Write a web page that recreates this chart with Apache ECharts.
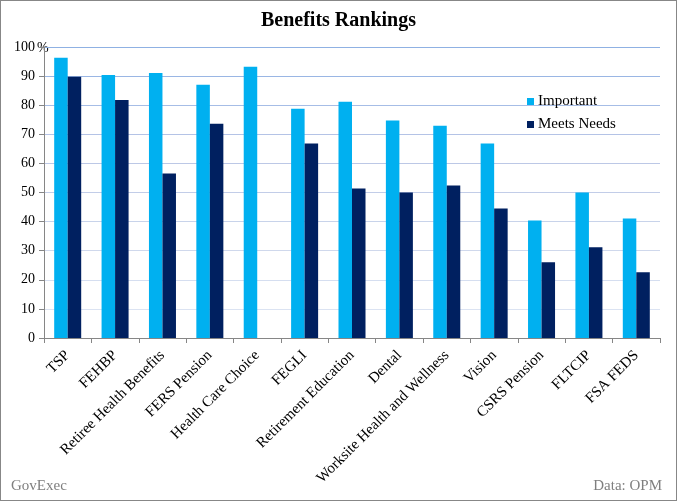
<!DOCTYPE html>
<html>
<head>
<meta charset="utf-8">
<script src="https://cdn.jsdelivr.net/npm/echarts@6/dist/echarts.min.js"></script>
<style>
html,body{margin:0;padding:0;background:#fff;}
#chart{width:677px;height:501px;box-sizing:border-box;border:1px solid #878787;}
</style>
</head>
<body>
<div id="chart"></div>
<script>
const categories = ["TSP","FEHBP","Retiree Health Benefits","FERS Pension","Health Care Choice","FEGLI","Retirement Education","Dental","Worksite Health and Wellness","Vision","CSRS Pension","FLTCIP","FSA FEDS"];
const important = [96.3, 90.4, 91.1, 87.0, 93.2, 78.8, 81.2, 74.7, 72.9, 66.8, 40.4, 50.0, 41.1];
const meetsNeeds = [89.8, 81.8, 56.5, 73.6, null, 66.8, 51.4, 50.0, 52.4, 44.5, 26.0, 31.2, 22.6];
const yTicks = [0,10,20,30,40,50,60,70,80,90,100];

const serif = "'Liberation Serif','DejaVu Serif',serif";
const chart = echarts.init(document.getElementById('chart'), null, {renderer:'canvas'});
chart.setOption({
  animation:false,
  title:{text:'Benefits Rankings', left:'center', top:5,
    textStyle:{fontFamily:serif, fontWeight:'bold', fontSize:20, color:'#000'}},
  legend:{
    data:['Important','Meets Needs'], orient:'vertical', left:521, top:88, itemGap:8,
    itemWidth:7, itemHeight:7, icon:'rect',
    textStyle:{fontFamily:serif, fontSize:15, color:'#000', padding:[0,0,0,-1]}
  },
  grid:{left:43, right:16, top:46, bottom:162, containLabel:false},
  xAxis:{
    type:'category', data:categories,
    axisLine:{lineStyle:{color:'#868686', width:1}},
    axisTick:{show:true, length:5, lineStyle:{color:'#868686'}},
    axisLabel:{rotate:45, interval:0, fontFamily:serif, fontSize:15, color:'#000', margin:15}
  },
  yAxis:{
    type:'value', min:0, max:100, interval:10,
    axisLine:{show:true, lineStyle:{color:'#868686'}},
    axisTick:{show:true, length:5, lineStyle:{color:'#868686'}},
    axisLabel:{fontFamily:serif, fontSize:14, color:'#000', margin:9},
    splitLine:{show:true, lineStyle:{width:1, color:['#e0e8f4','#dbe3f2','#d5def0','#cfd8ec','#c8d3ea','#c2cde8','#bcc8e6','#b4c3e6','#a6bde6','#9ab6e4','#8fb1e3']}}
  },
  series:[
    {name:'Important', type:'bar', data:important, itemStyle:{color:'#00B0F0'}, barGap:'0%', barCategoryGap:'43%'},
    {name:'Meets Needs', type:'bar', data:meetsNeeds, itemStyle:{color:'#002060'}, barGap:'0%', barCategoryGap:'43%'}
  ],
  graphic:[
    {type:'text', left:36, top:40, style:{text:'%', font:"14px 'Liberation Serif','DejaVu Serif',serif", fill:'#000'}},
    {type:'text', left:10, top:478, style:{text:'GovExec', font:"15px 'Liberation Serif','DejaVu Serif',serif", fill:'#7f7f7f'}},
    {type:'text', right:14, top:478, style:{text:'Data: OPM', font:"15px 'Liberation Serif','DejaVu Serif',serif", fill:'#7f7f7f'}}
  ]
});
</script>
</body>
</html>
